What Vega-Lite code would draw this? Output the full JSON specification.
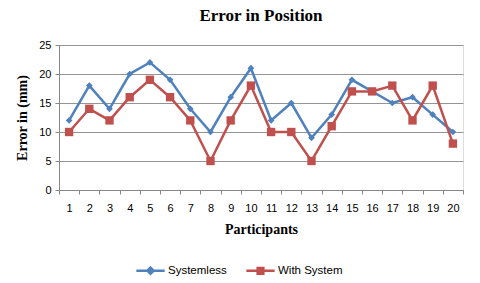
{
  "$schema": "https://vega.github.io/schema/vega-lite/v6.json",
  "width": 404,
  "height": 145,
  "autosize": {"type": "none"},
  "padding": {"left": 59, "top": 45, "right": 17, "bottom": 93},
  "background": "white",
  "title": {"text": "Error in Position", "font": "Liberation Serif", "fontSize": 17, "fontWeight": "bold", "color": "#000000", "offset": 14, "anchor": "middle"},
  "data": {"values": [
    {"p": 1, "series": "Systemless", "v": 12}, {"p": 2, "series": "Systemless", "v": 18},
    {"p": 3, "series": "Systemless", "v": 14}, {"p": 4, "series": "Systemless", "v": 20},
    {"p": 5, "series": "Systemless", "v": 22}, {"p": 6, "series": "Systemless", "v": 19},
    {"p": 7, "series": "Systemless", "v": 14}, {"p": 8, "series": "Systemless", "v": 10},
    {"p": 9, "series": "Systemless", "v": 16}, {"p": 10, "series": "Systemless", "v": 21},
    {"p": 11, "series": "Systemless", "v": 12}, {"p": 12, "series": "Systemless", "v": 15},
    {"p": 13, "series": "Systemless", "v": 9}, {"p": 14, "series": "Systemless", "v": 13},
    {"p": 15, "series": "Systemless", "v": 19}, {"p": 16, "series": "Systemless", "v": 17},
    {"p": 17, "series": "Systemless", "v": 15}, {"p": 18, "series": "Systemless", "v": 16},
    {"p": 19, "series": "Systemless", "v": 13}, {"p": 20, "series": "Systemless", "v": 10},
    {"p": 1, "series": "With System", "v": 10}, {"p": 2, "series": "With System", "v": 14},
    {"p": 3, "series": "With System", "v": 12}, {"p": 4, "series": "With System", "v": 16},
    {"p": 5, "series": "With System", "v": 19}, {"p": 6, "series": "With System", "v": 16},
    {"p": 7, "series": "With System", "v": 12}, {"p": 8, "series": "With System", "v": 5},
    {"p": 9, "series": "With System", "v": 12}, {"p": 10, "series": "With System", "v": 18},
    {"p": 11, "series": "With System", "v": 10}, {"p": 12, "series": "With System", "v": 10},
    {"p": 13, "series": "With System", "v": 5}, {"p": 14, "series": "With System", "v": 11},
    {"p": 15, "series": "With System", "v": 17}, {"p": 16, "series": "With System", "v": 17},
    {"p": 17, "series": "With System", "v": 18}, {"p": 18, "series": "With System", "v": 12},
    {"p": 19, "series": "With System", "v": 18}, {"p": 20, "series": "With System", "v": 8}
  ]},
  "encoding": {
    "x": {"field": "p", "type": "ordinal", "scale": {"type": "band", "paddingInner": 0, "paddingOuter": 0},
      "axis": {"title": "Participants", "titleFont": "Liberation Serif", "titleFontSize": 14, "titleFontWeight": "bold", "titleColor": "#000000", "titlePadding": 9,
        "labelAngle": 0, "labelFont": "Liberation Sans", "labelFontSize": 11, "labelColor": "#000000", "labelPadding": 8,
        "tickBand": "extent", "tickSize": 4, "tickColor": "#868686", "domainColor": "#868686", "grid": false}},
    "y": {"field": "v", "type": "quantitative", "scale": {"domain": [0, 25]},
      "axis": {"title": "Error in (mm)", "titleFont": "Liberation Serif", "titleFontSize": 14, "titleFontWeight": "bold", "titleColor": "#000000", "titlePadding": 9,
        "values": [0, 5, 10, 15, 20, 25], "labelFont": "Liberation Sans", "labelFontSize": 11, "labelColor": "#000000", "labelPadding": 4,
        "tickSize": 4, "tickColor": "#868686", "domainColor": "#868686", "grid": true, "gridColor": "#959595"}},
    "color": {"field": "series", "type": "nominal", "scale": {"domain": ["Systemless", "With System"], "range": ["#4F81BD", "#C0504D"]},
      "legend": {"title": null, "orient": "none", "legendX": 76, "legendY": 210, "direction": "horizontal",
        "labelFont": "Liberation Sans", "labelFontSize": 11.5, "labelColor": "#000000", "symbolSize": 800, "symbolStrokeWidth": 2.5, "columnPadding": 14, "labelOffset": 2,
        "symbolType": "M-1,0L1,0M0,-0.22L0.22,0L0,0.22L-0.22,0Z",
        "encode": {"symbols": {"update": {
          "shape": {"signal": "datum.value === 'Systemless' ? 'M-1,0L1,0M0,-0.22L0.22,0L0,0.22L-0.22,0Z' : 'M-1,0L1,0M-0.2,-0.2L0.2,-0.2L0.2,0.2L-0.2,0.2Z'"},
          "fill": {"signal": "datum.value === 'Systemless' ? '#4F81BD' : '#C0504D'"}}}}}}
  },
  "layer": [
    {"mark": {"type": "line", "strokeWidth": 2.5}},
    {"transform": [{"filter": "datum.series === 'Systemless'"}],
      "mark": {"type": "point", "filled": true, "opacity": 1, "shape": "diamond", "size": 45}},
    {"transform": [{"filter": "datum.series === 'With System'"}],
      "mark": {"type": "point", "filled": true, "opacity": 1, "shape": "square", "size": 70}}
  ]
}
